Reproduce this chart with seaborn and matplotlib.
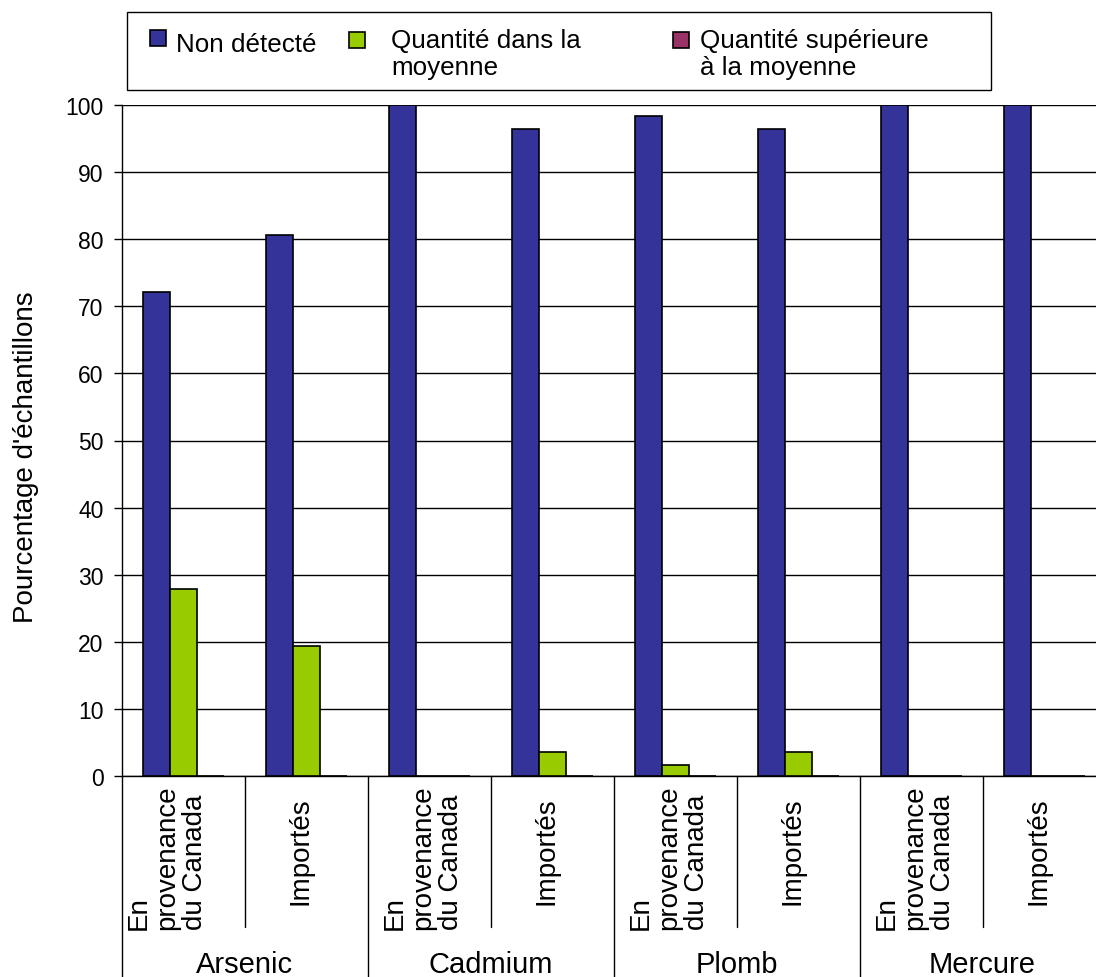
import matplotlib
matplotlib.use("Agg")
import matplotlib.pyplot as plt
import matplotlib.transforms as mtransforms
from matplotlib.patches import Rectangle
import seaborn as sns
import pandas as pd

# Données : pourcentage d'échantillons par métal et par provenance
metaux = ["Arsenic", "Cadmium", "Plomb", "Mercure"]
origines = ["En\nprovenance\ndu Canada", "Importés"]
series = ["Non détecté", "Quantité dans la\nmoyenne", "Quantité supérieure\nà la moyenne"]
couleurs = ["#333399", "#99CC00", "#993366"]
non_detecte = [72.2, 80.6, 100.0, 96.4, 98.3, 96.4, 100.0, 100.0]
dans_moyenne = [27.8, 19.4, 0.0, 3.6, 1.7, 3.6, 0.0, 0.0]
superieure = [0.0, 0.0, 0.0, 0.0, 0.0, 0.0, 0.0, 0.0]
graduations = [0, 10, 20, 30, 40, 50, 60, 70, 80, 90, 100]
titre_y = "Pourcentage d'échantillons"

sns.set_style("white")
plt.rcParams["font.family"] = ["Liberation Sans", "DejaVu Sans"]
plt.rcParams["text.color"] = "black"
plt.rcParams["axes.labelcolor"] = "black"
plt.rcParams["xtick.color"] = "black"
plt.rcParams["ytick.color"] = "black"

W, H = 1096, 978
fig = plt.figure(figsize=(W / 100, H / 100), dpi=100)


def fx(x):
    return x / W


def fy(y):
    return 1 - y / H


x_gauche, x_droite, y_haut, y_bas = 121.6, 1105.6, 106, 777
ax = fig.add_axes([fx(x_gauche), fy(y_bas),
                   fx(x_droite) - fx(x_gauche), fy(y_haut) - fy(y_bas)])

cles = [f"{m}|{i}" for m in metaux for i in range(len(origines))]
lignes = []
for nom, valeurs in zip(series, [non_detecte, dans_moyenne, superieure]):
    for cle, v in zip(cles, valeurs):
        lignes.append({"cle": cle, "serie": nom, "valeur": v})
df = pd.DataFrame(lignes)

sns.barplot(data=df, x="cle", y="valeur", hue="serie", order=cles,
            hue_order=series, palette=couleurs, saturation=1, width=0.66,
            edgecolor="black", linewidth=1.2, errorbar=None, legend=False,
            ax=ax, zorder=3)

ax.set_xlim(-0.5, len(cles) - 0.5)
ax.set_ylim(0, 100)
ax.set_yticks(graduations)
ax.set_yticklabels([str(g) for g in graduations])
ax.yaxis.grid(True, color="black", linewidth=1.0)
ax.set_axisbelow(True)
ax.set_xlabel("")
ax.set_ylabel("")
ax.set_xticks([])
for cote in ["top", "right"]:
    ax.spines[cote].set_visible(False)
for cote in ["left", "bottom"]:
    ax.spines[cote].set_color("black")
    ax.spines[cote].set_linewidth(1.0)
ax.tick_params(axis="y", which="major", left=True, direction="out",
               length=6, width=1.0, color="black", pad=7, labelsize=16.5,
               labelcolor="black")

fig.text(fx(26), fy(457), titre_y, rotation=90, ha="center", va="center",
         fontsize=20)

# Séparateurs et étiquettes de l'axe des catégories
hauteur = y_bas - y_haut
trans = ax.get_xaxis_transform()


def ay(ypix):
    return (y_bas - ypix) / hauteur


n_orig = len(origines)
for k in range(len(cles) + 1):
    xpos = k - 0.5
    fin = 990 if k % n_orig == 0 else 928
    ax.plot([xpos, xpos], [0, ay(fin)], color="black", lw=1.0,
            transform=trans, clip_on=False)

for k, cle in enumerate(cles):
    etiquette = origines[k % n_orig]
    decalage = -6 if k > 0 else -16
    y_centre = 858 if k % n_orig == 0 else 851
    t = mtransforms.offset_copy(trans, fig=fig, x=decalage, y=0, units="dots")
    ax.text(k, ay(y_centre), etiquette, rotation=90, ha="center", va="center",
            multialignment="left", fontsize=20, linespacing=1.1,
            transform=t, clip_on=False)

for j, metal in enumerate(metaux):
    centre = j * n_orig + (n_orig - 1) / 2
    ax.text(centre, ay(973), metal, ha="center", va="baseline",
            fontsize=21, transform=trans, clip_on=False)

# Légende
fig.add_artist(Rectangle((fx(126.5), fy(91)), fx(990.8) - fx(126.5),
                         fy(13) - fy(91), transform=fig.transFigure,
                         facecolor="white", edgecolor="black", lw=1.0))
carres = [(150, 31), (349, 33), (673, 33)]
textes = [(176, 52), (391, 75), (700, 75)]
for nom, c, (mx, my), (tx, ty) in zip(series, couleurs, carres, textes):
    fig.add_artist(Rectangle((fx(mx), fy(my + 16)), fx(16), 16 / H,
                             transform=fig.transFigure, facecolor=c,
                             edgecolor="black", lw=1.2))
    fig.text(fx(tx), fy(ty), nom, ha="left", va="baseline", fontsize=18.7,
             linespacing=1.15)

fig.savefig("out.png", dpi=100)
